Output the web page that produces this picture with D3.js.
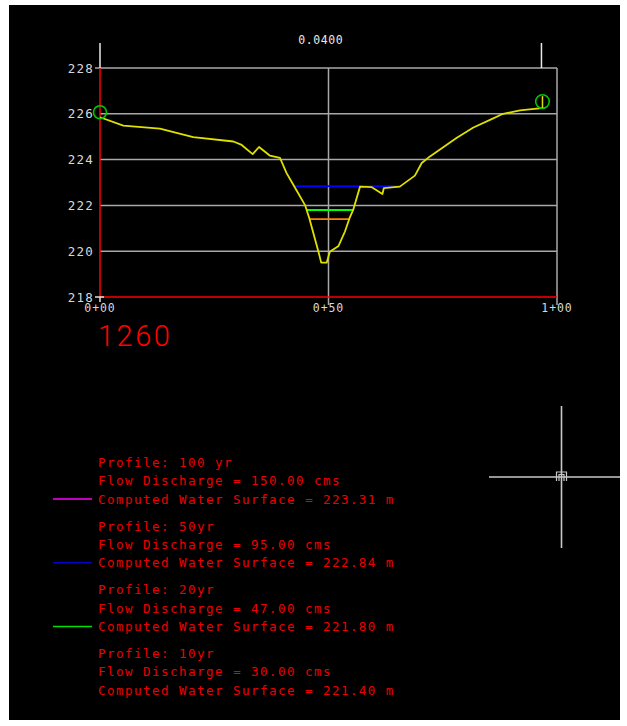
<!DOCTYPE html>
<html>
<head>
<meta charset="utf-8">
<script src="https://cdn.jsdelivr.net/npm/d3@7"></script>
<style>
  html, body { margin: 0; padding: 0; background: #ffffff; }
  svg { display: block; }
</style>
</head>
<body>
<svg id="chart" width="627" height="726"></svg>
<script>
// ---------- DATA ----------
const groundStation = [0, 5.1, 13.1, 20.4, 29.2, 31, 33.4, 34.8, 37.2, 39.4, 40.8, 42.3, 44.9, 45.8, 47.8, 48.4, 49.6, 50.3, 52.2, 53.6, 54.6, 55.4, 56.9, 59.4, 61.8, 62.1, 65.6, 68.9, 70.4, 72.2, 78.0, 81.7, 85.7, 88.2, 91.9, 96.6];
const groundElev = [225.85, 225.48, 225.35, 224.98, 224.79, 224.64, 224.24, 224.55, 224.17, 224.07, 223.42, 222.9, 222.0, 221.44, 219.98, 219.5, 219.5, 219.98, 220.23, 220.86, 221.44, 221.8, 222.82, 222.8, 222.5, 222.75, 222.82, 223.3, 223.85, 224.14, 224.94, 225.4, 225.77, 226.0, 226.15, 226.25];

const profileNames = ["100 yr", "50yr", "20yr", "10yr"];
const discharges = ["150.00", "95.00", "47.00", "30.00"];
const wsElev = [223.31, 222.84, 221.80, 221.40];
const plotColors = [null, "#0000ff", "#00ff00", "#ff8000"];
const swatchColors = ["#ff00ff", "#0000c8", "#00e000", null];

const yTicks = [218, 220, 222, 224, 226, 228];
const xTicks = [0, 50, 100];
const xTickLabels = ["0+00", "0+50", "1+00"];
const nValueStations = [0, 96.6];
const nValueLabel = "0.0400";
const sectionLabel = "1260";

// ---------- LAYOUT ----------
const svg = d3.select("#chart");
svg.append("rect").attr("x", 9).attr("y", 5).attr("width", 611).attr("height", 715).attr("fill", "#000");

const x = d3.scaleLinear().domain([0, 100]).range([100, 557]);
const y = d3.scaleLinear().domain([218, 228]).range([297, 68]);

const grey = "#a8a8a8";
const labelCol = "#d8d8d8";
const mono = "'DejaVu Sans Mono', 'Liberation Mono', monospace";

// horizontal grid lines (incl. top border)
svg.append("g").selectAll("line").data(yTicks.filter(d => d > 218)).join("line")
  .attr("x1", d => d === 228 ? x(0) - 5 : x(0)).attr("x2", x(100))
  .attr("y1", d => y(d)).attr("y2", d => y(d))
  .attr("stroke", grey).attr("stroke-width", 1.5);

// vertical grid lines
svg.append("g").selectAll("line").data(xTicks.filter(d => d > 0)).join("line")
  .attr("x1", d => x(d)).attr("x2", d => x(d))
  .attr("y1", y(228)).attr("y2", y(218) + 8)
  .attr("stroke", grey).attr("stroke-width", 1.5);

// red axes
svg.append("line").attr("x1", x(0)).attr("x2", x(100)).attr("y1", y(218)).attr("y2", y(218))
  .attr("stroke", "#ff0000").attr("stroke-width", 1.5);
svg.append("line").attr("x1", x(0)).attr("x2", x(0)).attr("y1", y(228)).attr("y2", y(218))
  .attr("stroke", "#ff0000").attr("stroke-width", 1.5);

// corner cross at 218
svg.append("line").attr("x1", x(0) - 5).attr("x2", x(0) + 4).attr("y1", y(218)).attr("y2", y(218))
  .attr("stroke", "#e0e0e0").attr("stroke-width", 1.5);
svg.append("line").attr("x1", x(0)).attr("x2", x(0)).attr("y1", y(218)).attr("y2", y(218) + 5)
  .attr("stroke", "#e0e0e0").attr("stroke-width", 1.5);

// n-value markers
svg.append("g").selectAll("line").data(nValueStations).join("line")
  .attr("x1", d => x(d)).attr("x2", d => x(d))
  .attr("y1", y(228) - 25).attr("y2", y(228))
  .attr("stroke", "#e8e8e8").attr("stroke-width", 1.5);
svg.append("text").attr("x", (x(nValueStations[0]) + x(nValueStations[1])) / 2).attr("y", 44)
  .attr("text-anchor", "middle").attr("fill", "#e8e8e8")
  .attr("font-family", mono).attr("font-size", 11.5).attr("letter-spacing", 0.6).text(nValueLabel);

// y tick labels
svg.append("g").selectAll("text").data(yTicks).join("text")
  .attr("x", 94).attr("y", d => y(d) + 4.5)
  .attr("text-anchor", "end").attr("fill", labelCol)
  .attr("font-family", mono).attr("font-size", 12.5).attr("letter-spacing", 1.2)
  .text(d => d);

// x tick labels
svg.append("g").selectAll("text").data(xTicks).join("text")
  .attr("x", d => x(d)).attr("y", 312)
  .attr("text-anchor", "middle").attr("fill", labelCol)
  .attr("font-family", mono).attr("font-size", 11.5).attr("letter-spacing", 0.9)
  .text((d, i) => xTickLabels[i]);

// water surfaces
const ground = groundStation.map((s, i) => ({ s, e: groundElev[i] }));
const minIdx = d3.minIndex(groundElev);
function crossing(ws, dir) {
  let i = minIdx;
  while (i + dir >= 0 && i + dir < ground.length) {
    const a = ground[i], b = ground[i + dir];
    if (b.e >= ws) {
      const t = (ws - a.e) / (b.e - a.e);
      return a.s + t * (b.s - a.s);
    }
    i += dir;
  }
  return ground[i].s;
}
wsElev.forEach((ws, i) => {
  if (!plotColors[i]) return;
  svg.append("line")
    .attr("x1", x(crossing(ws, -1))).attr("x2", x(crossing(ws, 1)))
    .attr("y1", y(ws)).attr("y2", y(ws))
    .attr("stroke", plotColors[i]).attr("stroke-width", 1.8);
});

// ground profile
svg.append("path").datum(ground)
  .attr("d", d3.line().x(d => x(d.s)).y(d => y(d.e)))
  .attr("fill", "none").attr("stroke", "#e0e000").attr("stroke-width", 1.8)
  .attr("stroke-linejoin", "round");

// end-point markers (levee circles)
const first = ground[0], last = ground[ground.length - 1];
svg.append("circle").attr("cx", x(first.s)).attr("cy", y(first.e) - 5).attr("r", 6.5)
  .attr("fill", "none").attr("stroke", "#00c800").attr("stroke-width", 1.6);
svg.append("circle").attr("cx", x(last.s) + 1).attr("cy", y(last.e) - 6.5).attr("r", 6.8)
  .attr("fill", "none").attr("stroke", "#00c800").attr("stroke-width", 1.6);
svg.append("line").attr("x1", x(last.s) + 1).attr("x2", x(last.s) + 1)
  .attr("y1", y(last.e) - 12).attr("y2", y(last.e))
  .attr("stroke", "#e0e000").attr("stroke-width", 1.5);

// section label
svg.append("text").attr("x", 98).attr("y", 346)
  .attr("fill", "#ff0000").attr("font-family", "Roboto, 'DejaVu Sans', sans-serif")
  .attr("font-weight", 300).attr("font-size", 29).attr("letter-spacing", 2.5)
  .text(sectionLabel);

// legend
const legendRed = "#ee0000";
profileNames.forEach((name, i) => {
  const base = 467 + i * 63.7;
  const lines = [
    "Profile: " + name,
    "Flow Discharge = " + discharges[i] + " cms",
    "Computed Water Surface = " + wsElev[i].toFixed(2) + " m"
  ];
  const offs = [0, 18.3, 36.5];
  lines.forEach((t, j) => {
    svg.append("text").attr("x", 98).attr("y", base + offs[j])
      .attr("fill", legendRed).attr("font-family", mono)
      .attr("font-size", 12.5).attr("letter-spacing", 1.47).text(t);
  });
  if (swatchColors[i]) {
    svg.append("line").attr("x1", 53).attr("x2", 92)
      .attr("y1", base + 32).attr("y2", base + 32)
      .attr("stroke", swatchColors[i]).attr("stroke-width", 1.5);
  }
});

// crosshair cursor
svg.append("line").attr("x1", 561.5).attr("x2", 561.5).attr("y1", 406).attr("y2", 548)
  .attr("stroke", "#c8c8c8").attr("stroke-width", 1.6);
svg.append("line").attr("x1", 489).attr("x2", 620).attr("y1", 477).attr("y2", 477)
  .attr("stroke", "#c8c8c8").attr("stroke-width", 1.6);
svg.append("path").attr("d", "M556.5,481 L556.5,472 L566.5,472 L566.5,481 M559,481 L559,474.5 L564,474.5 L564,481")
  .attr("fill", "none").attr("stroke", "#c8c8c8").attr("stroke-width", 1.2);
</script>
</body>
</html>
